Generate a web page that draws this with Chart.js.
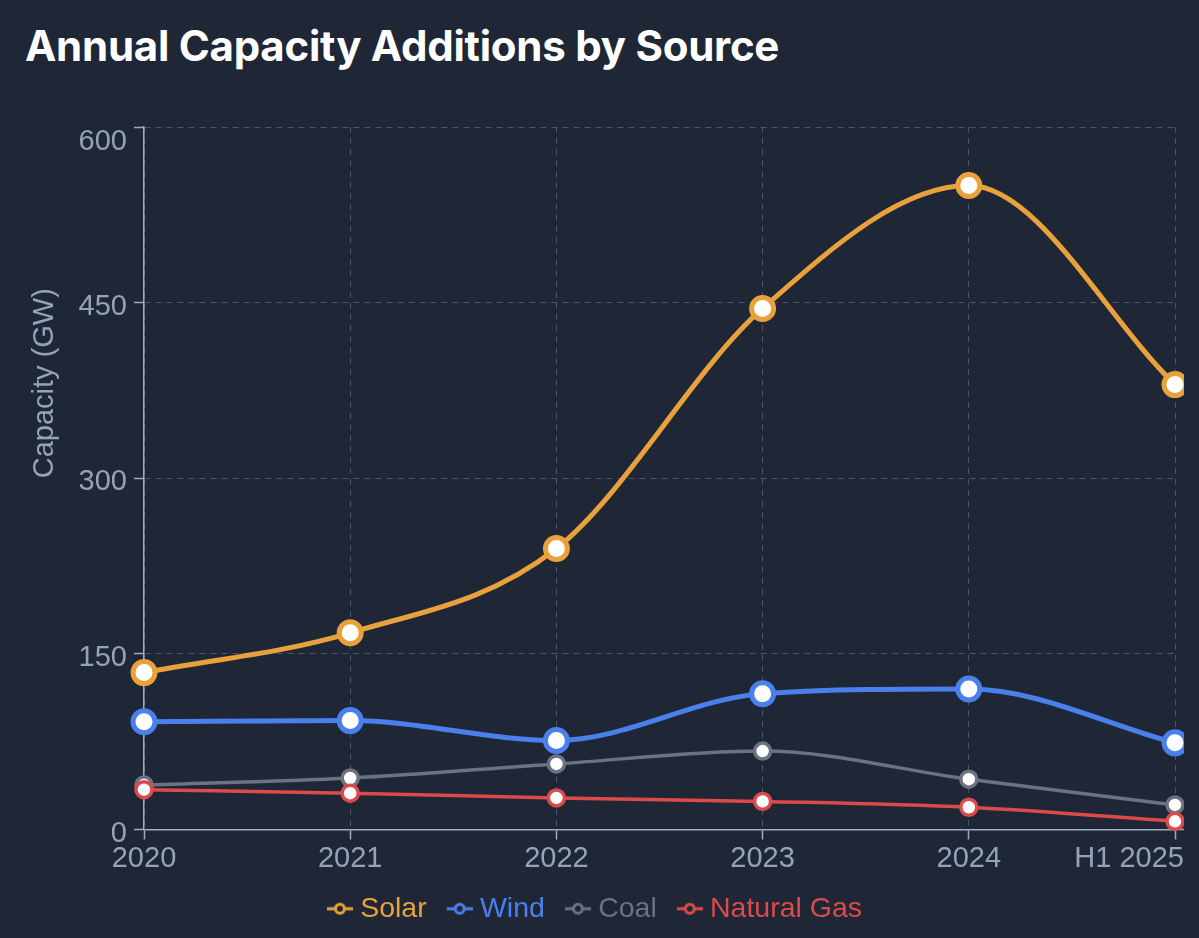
<!DOCTYPE html>
<html>
<head>
<meta charset="utf-8">
<script src="https://cdn.jsdelivr.net/npm/chart.js@4.4.1/dist/chart.umd.min.js"></script>
<style>
  html, body { margin: 0; padding: 0; background: #1f2737; width: 1199px; height: 938px; overflow: hidden; }
  h1 { position: absolute; left: 25px; top: 25px; margin: 0; font: 700 42px/42px Inter, "Liberation Sans", sans-serif; letter-spacing: -0.25px; color: #ffffff; white-space: nowrap; }
  #wrap { position: absolute; left: 14px; top: 120px; width: 1170px; height: 818px; }
</style>
</head>
<body>
<h1>Annual Capacity Additions by Source</h1>
<div id="wrap"><canvas id="chart"></canvas></div>
<script>
// ---- data ----
const categories = ['2020', '2021', '2022', '2023', '2024', 'H1 2025'];
const solar = [134, 168, 240, 445, 550, 380];
const wind = [92, 93, 76, 116, 120, 74];
const coal = [38, 44, 56, 67, 43, 21];
const naturalGas = [34, 31, 27, 24, 19, 7];
const yTicks = [0, 150, 300, 450, 600];
const seriesNames = ['Solar', 'Wind', 'Coal', 'Natural Gas'];
const yAxisTitle = 'Capacity (GW)';

// ---- styles ----
const colors = ['#e9a23b', '#4a80ec', '#6b7280', '#dd4a4a'];
const bg = '#1f2737';
const tickColor = '#94a3b8';
const axisColor = '#a3adbd';
const gridColor = '#4a5466';
const FONT = '"Liberation Sans", Arial, sans-serif';

Chart.defaults.font.family = FONT;

function legendIcon(color) {
  const c = document.createElement('canvas');
  c.width = 33; c.height = 16;
  const g = c.getContext('2d');
  g.strokeStyle = color;
  g.lineWidth = 3;
  g.beginPath(); g.moveTo(7, 8); g.lineTo(33, 8); g.stroke();
  g.fillStyle = bg;
  g.beginPath(); g.arc(20, 8, 4.5, 0, Math.PI * 2); g.fill(); g.stroke();
  return c;
}

function makeDataset(i, values, thick) {
  return {
    label: seriesNames[i],
    data: values,
    borderColor: colors[i],
    backgroundColor: colors[i],
    borderWidth: thick ? 5 : 3.5,
    pointRadius: thick ? 11 : 8,
    pointHoverRadius: thick ? 11 : 8,
    pointBorderWidth: thick ? 5 : 3.5,
    pointBackgroundColor: '#ffffff',
    pointBorderColor: colors[i],
    cubicInterpolationMode: 'monotone',
    fill: false,
    clip: false,
    order: 3 - i
  };
}

const edgePlugin = {
  id: 'edgeLabels',
  beforeDraw(chart) {
    const ctx = chart.ctx;
    const area = chart.chartArea;
    const xs = chart.scales.x, ys = chart.scales.y;
    xs.getLabelItems().forEach((it, i) => {
      ctx.font = it.font.string;
      const w = ctx.measureText(it.label).width;
      const px = xs.getPixelForTick(i);
      it.textOffset = 0;
      it.options.textBaseline = 'alphabetic';
      it.options.translation[1] = area.bottom + 37;
      if (px + w / 2 > chart.width) {
        it.options.textAlign = 'right';
        it.options.translation[0] = chart.width;
      } else {
        it.options.textAlign = 'center';
        it.options.translation[0] = px;
      }
    });
    ys.getLabelItems().forEach((it, i) => {
      const py = ys.getPixelForTick(i);
      it.textOffset = 0;
      it.options.textBaseline = 'alphabetic';
      it.options.translation[1] = Math.max(py + 12, area.top + 23);
    });
  },
  beforeDatasetsDraw(chart) {
    const ctx = chart.ctx, area = chart.chartArea;
    ctx.save();
    ctx.strokeStyle = axisColor;
    ctx.lineWidth = 1.5;
    ctx.beginPath();
    ctx.moveTo(area.right, area.bottom);
    ctx.lineTo(chart.width, area.bottom);
    ctx.stroke();
    ctx.restore();
  },
  afterDraw(chart) {
    const ctx = chart.ctx, area = chart.chartArea;
    ctx.save();
    ctx.font = '29px ' + FONT;
    ctx.fillStyle = tickColor;
    ctx.translate(39, (area.top + area.bottom) / 2);
    ctx.rotate(-Math.PI / 2);
    ctx.textAlign = 'left';
    ctx.textBaseline = 'alphabetic';
    ctx.fillText(yAxisTitle, 0, 0);
    ctx.restore();
  }
};

new Chart(document.getElementById('chart'), {
  type: 'line',
  data: {
    labels: categories,
    datasets: [
      makeDataset(0, solar, true),
      makeDataset(1, wind, true),
      makeDataset(2, coal, false),
      makeDataset(3, naturalGas, false)
    ]
  },
  plugins: [edgePlugin],
  options: {
    responsive: true,
    maintainAspectRatio: false,
    animation: false,
    events: [],
    layout: { autoPadding: false, padding: { top: 7, left: 0, right: 9, bottom: 5 } },
    plugins: {
      title: { display: false },
      tooltip: { enabled: false },
      legend: {
        display: true,
        position: 'bottom',
        labels: {
          usePointStyle: true,
          pointStyleWidth: 19,
          padding: 20,
          font: { size: 28.5, family: FONT },
          generateLabels(chart) {
            return chart.data.datasets.map((ds, i) => ({
              text: ds.label,
              fontColor: ds.borderColor,
              pointStyle: legendIcon(ds.borderColor),
              fillStyle: 'transparent',
              strokeStyle: 'transparent',
              lineWidth: 0,
              hidden: !chart.isDatasetVisible(i),
              datasetIndex: i
            }));
          }
        }
      }
    },
    scales: {
      x: {
        type: 'category',
        offset: false,
        grid: { color: gridColor, lineWidth: 1, tickColor: axisColor, tickLength: 10, tickWidth: 1.5, drawOnChartArea: true },
        border: { display: true, color: axisColor, width: 1.5, dash: [6, 5] },
        ticks: { color: tickColor, font: { size: 29, family: FONT }, padding: 2, maxRotation: 0, autoSkip: false },
        afterFit(s) { s.height = 45; s.paddingLeft = 0; s.paddingRight = 0; }
      },
      y: {
        min: 0,
        max: 600,
        afterBuildTicks(s) { s.ticks = yTicks.map(v => ({ value: v })); },
        grid: { color: gridColor, lineWidth: 1, tickColor: axisColor, tickLength: 10, tickWidth: 1.5 },
        border: { display: true, color: axisColor, width: 1.5, dash: [6, 5] },
        ticks: { color: tickColor, font: { size: 29, family: FONT }, padding: 7 },
        afterFit(s) { s.width = 130; s.paddingTop = 0; s.paddingBottom = 0; }
      }
    }
  }
});
</script>
</body>
</html>
